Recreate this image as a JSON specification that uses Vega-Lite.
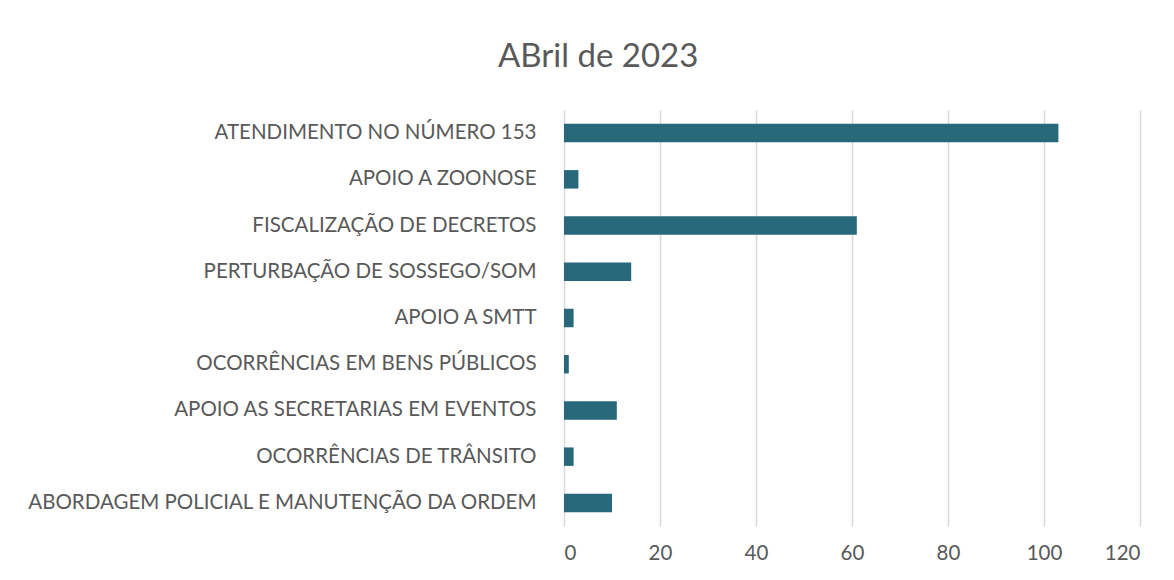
{
  "$schema": "https://vega.github.io/schema/vega-lite/v6.json",
  "autosize": "none",
  "width": 576,
  "height": 416,
  "padding": {"left": 564, "top": 110, "right": 34, "bottom": 54},
  "background": "white",
  "title": {
    "text": "ABril de 2023",
    "anchor": "start",
    "frame": "group",
    "dx": -66,
    "offset": 36,
    "font": "Lato",
    "fontSize": 33,
    "fontWeight": "normal",
    "color": "#595959"
  },
  "data": {
    "values": [
      {"categoria": "ATENDIMENTO NO NÚMERO 153", "valor": 103},
      {"categoria": "APOIO A ZOONOSE", "valor": 3},
      {"categoria": "FISCALIZAÇÃO DE DECRETOS", "valor": 61},
      {"categoria": "PERTURBAÇÃO DE SOSSEGO/SOM", "valor": 14},
      {"categoria": "APOIO A SMTT", "valor": 2},
      {"categoria": "OCORRÊNCIAS EM BENS PÚBLICOS", "valor": 1},
      {"categoria": "APOIO AS SECRETARIAS EM EVENTOS", "valor": 11},
      {"categoria": "OCORRÊNCIAS DE TRÂNSITO", "valor": 2},
      {"categoria": "ABORDAGEM POLICIAL E MANUTENÇÃO DA ORDEM", "valor": 10}
    ]
  },
  "mark": {"type": "bar", "color": "#27697A"},
  "encoding": {
    "y": {
      "field": "categoria",
      "type": "nominal",
      "sort": null,
      "scale": {"paddingInner": 0.6, "paddingOuter": 0.3},
      "axis": {
        "title": null,
        "domain": false,
        "ticks": false,
        "grid": false,
        "labelPadding": 28,
        "labelFont": "Lato",
        "labelFontSize": 20.5,
        "labelColor": "#595959",
        "labelLimit": 600
      }
    },
    "x": {
      "field": "valor",
      "type": "quantitative",
      "scale": {"domain": [0, 120], "nice": false},
      "axis": {
        "title": null,
        "values": [0, 20, 40, 60, 80, 100, 120],
        "domain": false,
        "ticks": false,
        "grid": true,
        "gridColor": "#D9D9D9",
        "gridWidth": 1.5,
        "labelPadding": 17,
        "labelFont": "Lato",
        "labelFontSize": 20.5,
        "labelColor": "#595959"
      }
    }
  },
  "config": {"view": {"stroke": null}}
}
